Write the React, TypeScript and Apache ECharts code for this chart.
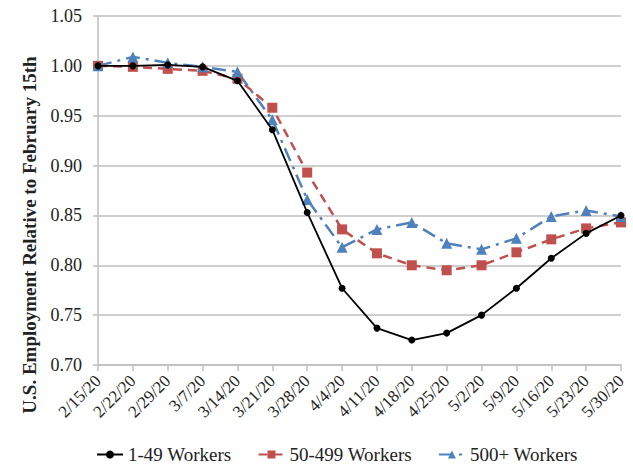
import React, { useEffect, useRef } from "react";
import * as echarts from "echarts";

const categories = ["2/15/20","2/22/20","2/29/20","3/7/20","3/14/20","3/21/20","3/28/20","4/4/20","4/11/20","4/18/20","4/25/20","5/2/20","5/9/20","5/16/20","5/23/20","5/30/20"];
const small = [1.000,1.000,1.001,0.999,0.985,0.936,0.853,0.777,0.737,0.725,0.732,0.750,0.777,0.807,0.832,0.850];
const medium = [1.000,0.999,0.997,0.995,0.987,0.958,0.893,0.836,0.812,0.800,0.795,0.800,0.813,0.826,0.837,0.843];
const large = [1.000,1.009,1.003,0.999,0.994,0.946,0.866,0.818,0.836,0.843,0.822,0.816,0.827,0.849,0.855,0.849];
const seriesNames = ["1-49 Workers","50-499 Workers","500+ Workers"];
const yTitle = "U.S. Employment Relative to February 15th";

const FONT = "Liberation Serif";

export default function App() {
  const ref = useRef<HTMLDivElement>(null);
  useEffect(() => {
    if (!ref.current) return;
    const chart = echarts.init(ref.current, undefined, { renderer: "svg" });
    chart.setOption({
      animation: false,
      backgroundColor: "#ffffff",
      textStyle: { fontFamily: FONT },
      grid: { left: 98, right: 12, top: 16, bottom: 100 },
      graphic: [
        {
          type: "text",
          x: 29,
          y: 235,
          rotation: Math.PI / 2,
          style: {
            text: yTitle,
            fontFamily: FONT,
            fontSize: 19,
            fontWeight: "bold",
            fill: "#222",
            align: "center",
            verticalAlign: "middle",
          },
        },
      ],
      legend: {
        top: 440,
        left: 91,
        itemWidth: 26,
        itemHeight: 10,
        itemGap: 26,
        textStyle: { fontFamily: FONT, fontSize: 19, color: "#222" },
        data: seriesNames,
      },
      xAxis: {
        type: "category",
        data: categories,
        boundaryGap: false,
        axisLine: { lineStyle: { color: "#bfbfbf", width: 1.5 } },
        axisTick: { show: true, alignWithLabel: true, length: 6, lineStyle: { color: "#bfbfbf", width: 1.5 } },
        axisLabel: { rotate: 45, fontFamily: FONT, fontSize: 17, color: "#222", margin: 13, interval: 0 },
      },
      yAxis: {
        type: "value",
        min: 0.7,
        max: 1.05,
        interval: 0.05,
        axisLine: { show: true, lineStyle: { color: "#bfbfbf", width: 1.5 } },
        axisTick: { show: true, length: 5, lineStyle: { color: "#bfbfbf", width: 1.5 } },
        splitLine: { lineStyle: { color: "#bfbfbf", width: 1.5 } },
        axisLabel: { fontFamily: FONT, fontSize: 18, color: "#222", margin: 16, formatter: (v: number) => v.toFixed(2) },
      },
      series: [
        {
          name: seriesNames[0],
          type: "line",
          data: small,
          symbol: "circle",
          symbolSize: 7,
          itemStyle: { color: "#000000" },
          lineStyle: { color: "#000000", width: 1.8 },
          z: 3,
        },
        {
          name: seriesNames[1],
          type: "line",
          data: medium,
          symbol: "rect",
          symbolSize: 10,
          itemStyle: { color: "#c0504d" },
          lineStyle: { color: "#c0504d", width: 2.5, type: [9, 6] },
          z: 2,
        },
        {
          name: seriesNames[2],
          type: "line",
          data: large,
          symbol: "triangle",
          symbolSize: 11,
          itemStyle: { color: "#4f81bd" },
          lineStyle: { color: "#4f81bd", width: 2.5, type: [14, 6, 3, 6] },
          z: 2,
        },
      ],
    });
    return () => chart.dispose();
  }, []);
  return <div ref={ref} style={{ position: "absolute", left: 0, top: 0, width: 633, height: 465 }} />;
}
